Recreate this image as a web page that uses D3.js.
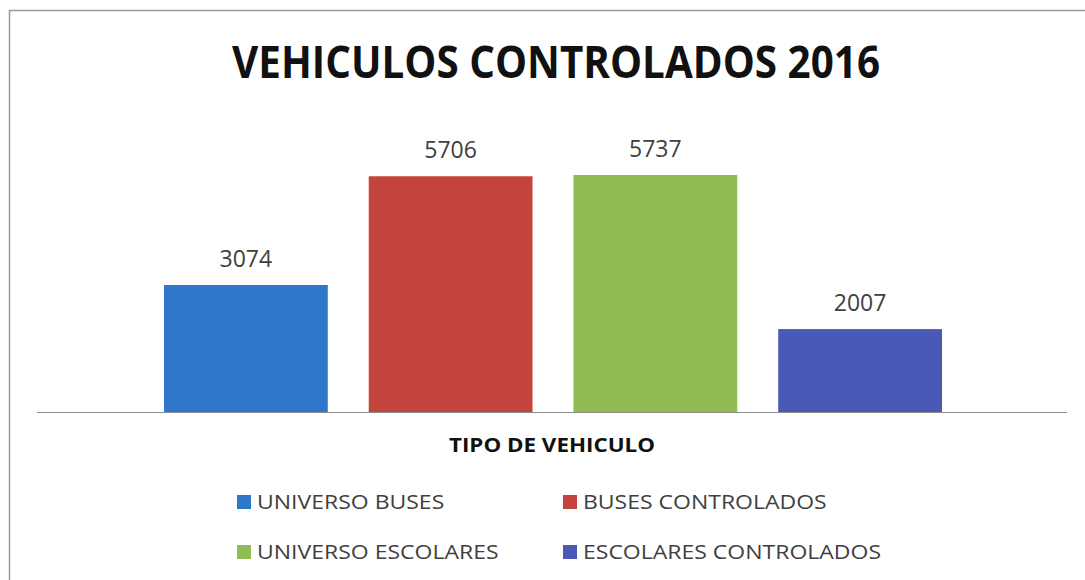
<!DOCTYPE html>
<html>
<head>
<meta charset="utf-8">
<script src="https://cdn.jsdelivr.net/npm/d3@7"></script>
<style>
  body { margin: 0; background: #fff; }
  text { font-family: "Open Sans", sans-serif; }
</style>
</head>
<body>
<script>
// chart data
var series = ["UNIVERSO BUSES", "BUSES CONTROLADOS", "UNIVERSO ESCOLARES", "ESCOLARES CONTROLADOS"];
var values = [3074, 5706, 5737, 2007];
var colors = ["#2f77cb", "#c3443c", "#90bc52", "#4a59b6"];
var title = "VEHICULOS CONTROLADOS 2016";
var axisTitle = "TIPO DE VEHICULO";

var width = 1085, height = 580;

var svg = d3.select("body").append("svg")
    .attr("width", width)
    .attr("height", height);

// chart frame
svg.append("rect")
    .attr("x", 9.5).attr("y", 10.5)
    .attr("width", 1100).attr("height", 600)
    .attr("fill", "#fff")
    .attr("stroke", "#9a9a9a")
    .attr("stroke-width", 1.5);

var xScale = d3.scaleBand()
    .domain(series)
    .range([143.5, 962.5])
    .paddingInner(0.2)
    .paddingOuter(0.1);

var yScale = d3.scaleLinear()
    .domain([0, 7000])
    .range([412, 122.8]);

// bars
svg.selectAll(".bar").data(values)
    .enter()
    .append("rect")
    .attr("class", "bar")
    .attr("x", function (d, i) { return xScale(series[i]); })
    .attr("y", function (d) { return yScale(d); })
    .attr("width", xScale.bandwidth())
    .attr("height", function (d) { return yScale(0) - yScale(d); })
    .attr("fill", function (d, i) { return colors[i]; });

// baseline
svg.append("line")
    .attr("x1", 37).attr("x2", 1067)
    .attr("y1", yScale(0) + 0.5).attr("y2", yScale(0) + 0.5)
    .attr("stroke", "#8c8c8c")
    .attr("stroke-width", 1.2);

// value labels
svg.selectAll(".label").data(values)
    .enter()
    .append("text")
    .attr("class", "label")
    .attr("x", function (d, i) { return xScale(series[i]) + xScale.bandwidth() / 2; })
    .attr("y", function (d) { return yScale(d) - 18; })
    .attr("text-anchor", "middle")
    .attr("font-size", 23)
    .attr("fill", "#404040")
    .text(function (d) { return d; });

// title
svg.append("text")
    .attr("x", 556).attr("y", 78)
    .attr("text-anchor", "middle")
    .attr("font-size", 45)
    .attr("font-weight", "bold")
    .attr("fill", "#111")
    .attr("textLength", 648)
    .attr("lengthAdjust", "spacingAndGlyphs")
    .text(title);

// axis title
svg.append("text")
    .attr("x", 552).attr("y", 452)
    .attr("text-anchor", "middle")
    .attr("font-size", 19.5)
    .attr("font-weight", "bold")
    .attr("fill", "#111")
    .attr("textLength", 206)
    .attr("lengthAdjust", "spacingAndGlyphs")
    .text(axisTitle);

// legend, 2 columns
var legendX = [237, 563];
var legendY = [502, 552];
var legend = svg.selectAll(".legend").data(series)
    .enter()
    .append("g")
    .attr("class", "legend")
    .attr("transform", function (d, i) {
        return "translate(" + legendX[i % 2] + "," + legendY[Math.floor(i / 2)] + ")";
    });

legend.append("rect")
    .attr("x", 0).attr("y", -7)
    .attr("width", 14).attr("height", 14)
    .attr("fill", function (d, i) { return colors[i]; });

// legend text is a bit wider than the fallback font, stretch it
legend.append("text")
    .attr("transform", "translate(20,0) scale(1.15,1)")
    .attr("dy", "0.36em")
    .attr("font-size", 20)
    .attr("fill", "#404040")
    .text(function (d) { return d; });
</script>
</body>
</html>
